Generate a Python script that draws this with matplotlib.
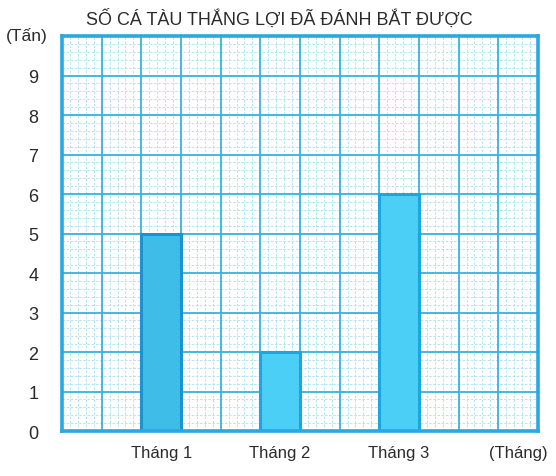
import numpy as np
import matplotlib.pyplot as plt

# Data
months = ["Tháng 1", "Tháng 2", "Tháng 3"]
tons = [5, 2, 6]
month_pos = [2.5, 5.5, 8.5]
y_ticks = [0, 1, 2, 3, 4, 5, 6, 7, 8, 9]

plt.rcParams['font.family'] = ['Liberation Sans', 'DejaVu Sans']
text_color = "#2b2b2b"

fig = plt.figure(figsize=(5.56, 4.77), dpi=100)
ax = fig.add_axes([0.1115, 0.0943, 0.856, 0.828])

ax.set_xlim(0, 12)
ax.set_ylim(0, 10)

# grid paper: light dashed minor lines, solid major lines
minor = np.arange(0, 12.01, 0.2)
for v in minor:
    if abs(v - round(v)) > 1e-6:
        ax.axvline(v, color="#a6e0f2", linewidth=0.6, linestyle=(0, (3, 2)), zorder=0)
        if v < 10:
            ax.axhline(v, color="#a6e0f2", linewidth=0.6, linestyle=(0, (3, 2)), zorder=0)
for v in range(1, 12):
    ax.axvline(v, color="#36b2df", linewidth=1.3, zorder=1)
for v in range(1, 10):
    ax.axhline(v, color="#36b2df", linewidth=1.3, zorder=1)

# bars
colors = ["#3fbde9", "#4ccff6", "#4ccff6"]
edges = ["#1c93cf", "#1ba6e0", "#1ba6e0"]
for x, v, c, e in zip(month_pos, tons, colors, edges):
    ax.bar(x, v, width=1.0, color=c, edgecolor=e, linewidth=2.2, zorder=3)

for s in ax.spines.values():
    s.set_color("#2aa8e0")
    s.set_linewidth(2.6)
    s.set_zorder(4)

ax.set_yticks(y_ticks)
ax.set_yticklabels([str(t) for t in y_ticks])
ax.set_xticks(month_pos + [11.5])
ax.set_xticklabels(months + ["(Tháng)"])
ax.tick_params(which="both", length=0)
ax.tick_params(axis="y", pad=17, labelsize=13, labelcolor=text_color)
ax.tick_params(axis="x", pad=10, labelsize=12, labelcolor=text_color)

fig.text(0.049, 0.925, "(Tấn)", fontsize=12.5, color=text_color, ha="center", va="center")
fig.text(0.503, 0.960, "SỐ CÁ TÀU THẮNG LỢI ĐÃ ĐÁNH BẮT ĐƯỢC", fontsize=13,
         color=text_color, ha="center", va="center")

fig.savefig("out.png", dpi=100)
